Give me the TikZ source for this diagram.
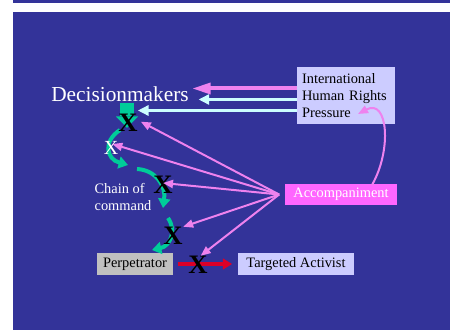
\documentclass[tikz,border=0pt]{standalone}
\usepackage{fontspec}
\setmainfont{Liberation Serif}
\usetikzlibrary{arrows.meta}

\definecolor{slideblue}{RGB}{51,51,153}
\definecolor{lavender}{RGB}{204,204,255}
\definecolor{perpgray}{RGB}{192,192,192}
\definecolor{accpink}{RGB}{255,102,255}
\definecolor{pinkline}{RGB}{238,130,238}
\definecolor{paleline}{RGB}{204,255,255}
\definecolor{chaingreen}{RGB}{0,204,153}
\definecolor{stopred}{RGB}{220,0,40}

\tikzset{every picture/.style={line width=0.75pt}}
\tikzset{
  boxtext/.style={font=\fontsize{10.8}{12.75}\selectfont, inner sep=0pt, align=left},
  xmark/.style={font=\fontsize{20}{20}\selectfont\bfseries, inner sep=0pt, text=black},
  pressarrow/.style={draw=pinkline, line width=3pt, -{Triangle[width=8pt,length=14pt]}},
  palearrow/.style={draw=paleline, line width=2pt, -{Triangle[width=7.5pt,length=8pt]}},
  accarrow/.style={draw=pinkline, line width=1.5pt, -{Triangle[width=6pt,length=7.5pt]}},
  chainarrow/.style={draw=chaingreen, line width=3pt, -{Triangle[width=9pt,length=7pt]}},
}

\begin{document}
\begin{tikzpicture}[x=0.75pt,y=0.75pt,yscale=-1,xscale=1]
\useasboundingbox (0,0) rectangle (452,331);

%Shape: Rectangle [slide background]
\fill[slideblue] (13,0) rectangle (450,3);
\fill[slideblue] (13,12) rectangle (450,330);

% Text Node
\node (dm) at (120,94) [text=white, font=\fontsize{16}{16}\selectfont, inner sep=0pt] {Decisionmakers};
% Shape: Rectangle
\node (ihr) at (346,95.5) [boxtext, fill=lavender, text=black, minimum width=73.5pt, minimum height=42.75pt, text width=66pt] {International\\Human Rights\\Pressure};
% Shape: Rectangle
\node (acc) at (341,194.5) [boxtext, fill=accpink, text=white, minimum width=84pt, minimum height=15.75pt, align=center] {Accompaniment};
% Shape: Rectangle
\node (perp) at (135,264) [boxtext, fill=perpgray, text=black, minimum width=57pt, minimum height=16.5pt, align=center] {Perpetrator};
% Shape: Rectangle
\node (tgt) at (296,264) [boxtext, fill=lavender, text=black, minimum width=87pt, minimum height=16.5pt, align=center] {Targeted Activist};
% Text Node
\node (chain) at (123,197) [boxtext, text=white] {Chain of\\command};

%Shape: Block arrow [first step down from the decisionmakers]
\node (blk) at (127,109.5) [fill=chaingreen, minimum width=10.5pt, minimum height=9.75pt, inner sep=0pt] {};
\fill[chaingreen] ([xshift=-8.25pt]blk.south) -- ([xshift=8.25pt]blk.south) -- ([yshift=8.5pt]blk.south) -- cycle;

%Curve Lines [chain of command]
\coordinate (ca) at (120,130);
\coordinate (cb) at (128,165);
\coordinate (cc) at (137,169);
\coordinate (cd) at (163,208);
\coordinate (ce) at (168,218);
\coordinate (cf) at (152,250);
\draw[chainarrow] (ca) .. controls (103,141) and (106,159) .. (cb);
\draw[chainarrow] (cc) .. controls (156,170) and (166,186) .. (cd);
\draw[chainarrow] (ce) .. controls (177,231) and (170,246) .. (cf);

%Straight Lines [pressure on the decisionmakers]
\draw[pressarrow] ([yshift=-5.25pt]ihr.west) -- ([yshift=-5.25pt,xshift=2pt]ihr.west -| dm.east);
\draw[palearrow] ([yshift=3pt]ihr.west) -- ([yshift=3pt,xshift=7pt]ihr.west -| dm.east);
\draw[palearrow] ([yshift=11.25pt]ihr.west) -- ([yshift=11.25pt,xshift=2.5pt]ihr.west -| blk.east);

%Curve Lines [accompaniment back to pressure]
\draw[accarrow] (372,185) .. controls (392,150) and (388,98) .. (358,114);

%Straight Lines [perpetrator to activist]
\draw[stopred, line width=3pt, -{Triangle[width=8pt,length=7pt]}] ([xshift=3pt]perp.east) -- ([xshift=-4pt]tgt.west);

% Text Node [crosses]
\node (xa) at (128,123) [xmark] {X};
\node (xb) at (111,148) [xmark, text=white, font=\fontsize{15}{15}\selectfont] {X};
\node (xc) at (163,185) [xmark] {X};
\node (xd) at (173,236) [xmark] {X};
\node (xe) at (198,265) [xmark] {X};

%Straight Lines [accompaniment on each link]
\draw[accarrow] ([xshift=-4pt]acc.west) -- ([xshift=2pt,yshift=-1pt]xa.east);
\draw[accarrow] ([xshift=-4pt]acc.west) -- ([xshift=1pt,yshift=-3pt]xb.center);
\draw[accarrow] ([xshift=-4pt]acc.west) -- ([yshift=-1.5pt]xc.center);
\draw[accarrow] ([xshift=-4pt]acc.west) -- (xd.north east);
\draw[accarrow] ([xshift=-4pt]acc.west) -- ([xshift=2pt]xe.north);

\end{tikzpicture}
\end{document}
